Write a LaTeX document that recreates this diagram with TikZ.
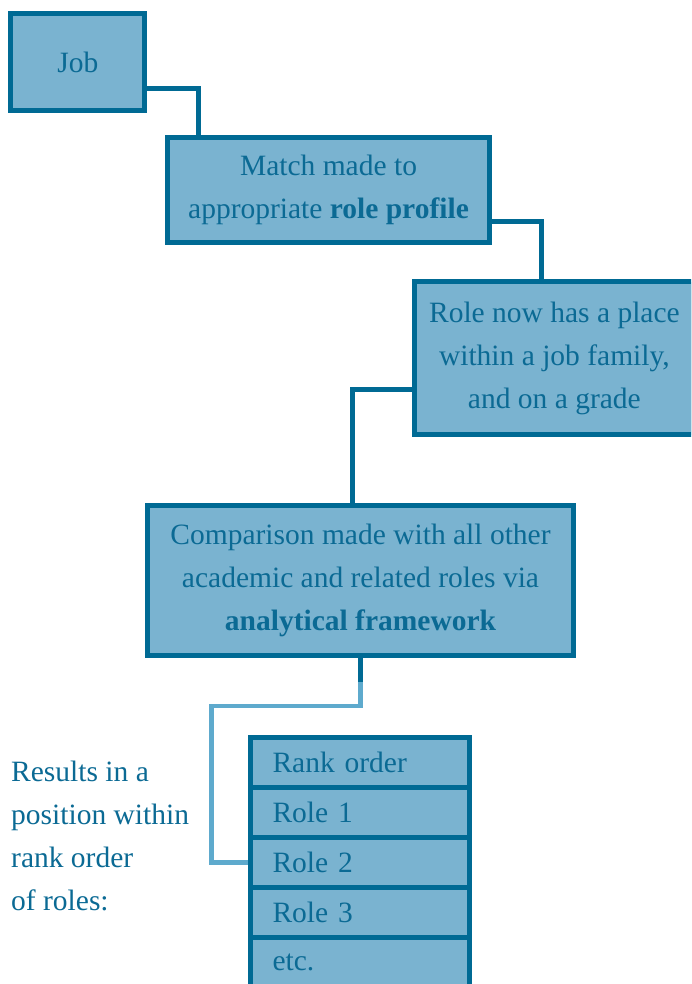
\documentclass[tikz,border=0pt]{standalone}
\usepackage{fontspec}
\setmainfont{Liberation Serif}
\usetikzlibrary{positioning}
\definecolor{boxfill}{HTML}{7AB3D0}
\definecolor{boxline}{HTML}{006A94}
\definecolor{linklight}{HTML}{5EAACD}
\definecolor{textblue}{HTML}{0B6A94}

\begin{document}
\begin{tikzpicture}[x=1pt,y=-1pt]
\tikzset{
  StepBox/.style={draw=boxline, fill=boxfill, line width=5pt, text=textblue,
    align=center, inner sep=0pt, font=\fontsize{29.5}{43}\selectfont},
  RankRow/.style={StepBox, minimum width=219pt, minimum height=50pt,
    text width=175pt, align=left},
  Link/.style={draw=boxline, line width=5pt},
  LinkLight/.style={draw=linklight, line width=4.5pt}
}
\useasboundingbox (0,0) rectangle (691,984);
\clip (0,0) rectangle (691,984);

% the steps
\node[StepBox, minimum width=134pt, minimum height=97.5pt] (job) at (77.8,62) {Job};
\node[StepBox, minimum width=322pt, minimum height=105pt] (match) at (328.5,190)
  {Match made to\\appropriate \textbf{role profile}};
\node[StepBox, minimum width=279pt, minimum height=153pt] (role) at (554.4,358.2)
  {Role now has a place\\within a job family,\\and on a grade};
\node[StepBox, minimum width=426pt, minimum height=150pt] (comp) at (360.5,580.5)
  {Comparison made with all other\\academic and related roles via\\\textbf{analytical framework}};

% rank order table
\node[RankRow] (rank) at (360,762.5) {Rank order};
\node[RankRow, below=-5pt of rank] (role1) {Role 1};
\node[RankRow, below=-5pt of role1] (role2) {Role 2};
\node[RankRow, below=-5pt of role2] (role3) {Role 3};
\node[RankRow, below=-5pt of role3] (etc) {etc.};

\node[anchor=west, align=left, inner sep=0pt, text=textblue,
  font=\fontsize{29.5}{43}\selectfont] (result) at (11,836)
  {Results in a\\position within\\rank order\\of roles:};

% connectors
\draw[Link] ([yshift=-27pt]job.east) -| ([xshift=-130pt]match.north);
\draw[Link] ([yshift=-31.5pt]match.east) -| ([xshift=-13pt]role.north);
\draw[Link] ([yshift=-31pt]role.west) -| ([xshift=-8.5pt]comp.north);
\coordinate (split) at ([yshift=-24pt]comp.south);
\coordinate (bend) at (211.5,705.8);
\draw[Link] (comp.south) -- (split);
\draw[LinkLight] (split) |- (bend) |- (role2.west);
\end{tikzpicture}
\end{document}
